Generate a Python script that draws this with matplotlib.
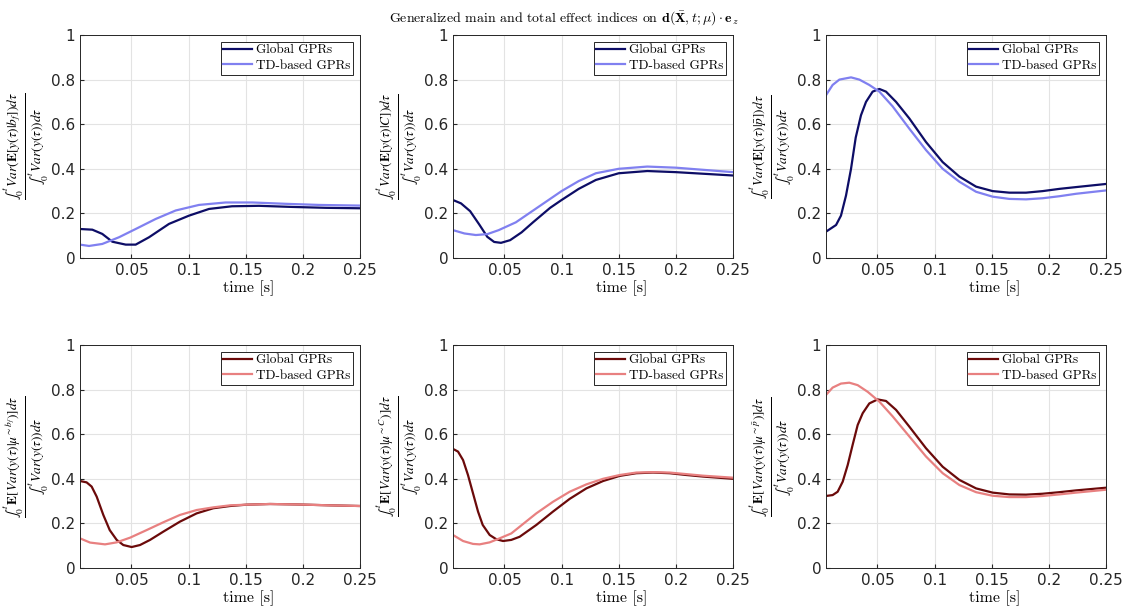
import matplotlib.pyplot as plt

plt.rcParams['mathtext.fontset'] = 'cm'

# Values (time in s)
t_g1 = [0.005, 0.0158, 0.0245, 0.0333, 0.045, 0.0537, 0.0654, 0.0829, 0.1004, 0.1179, 0.138, 0.1617, 0.1906, 0.2203, 0.25]
g1 = [0.13, 0.127, 0.108, 0.073, 0.06, 0.06, 0.093, 0.153, 0.19, 0.22, 0.232, 0.234, 0.229, 0.225, 0.223]
t_d1 = [0.005, 0.0129, 0.0245, 0.0391, 0.0537, 0.0712, 0.0887, 0.1091, 0.1325, 0.1558, 0.185, 0.2141, 0.25]
d1 = [0.06, 0.054, 0.063, 0.093, 0.13, 0.175, 0.213, 0.238, 0.249, 0.249, 0.243, 0.238, 0.235]

t_g2 = [0.005, 0.012, 0.02, 0.028, 0.035, 0.041, 0.047, 0.055, 0.065, 0.075, 0.09, 0.1, 0.115, 0.13, 0.15, 0.175, 0.2, 0.25]
g2 = [0.26, 0.245, 0.21, 0.15, 0.095, 0.072, 0.068, 0.08, 0.115, 0.16, 0.225, 0.26, 0.31, 0.35, 0.38, 0.39, 0.385, 0.37]
t_d2 = [0.005, 0.015, 0.025, 0.035, 0.045, 0.06, 0.08, 0.1, 0.115, 0.13, 0.15, 0.175, 0.2, 0.25]
d2 = [0.125, 0.11, 0.103, 0.107, 0.125, 0.16, 0.23, 0.3, 0.345, 0.38, 0.4, 0.41, 0.405, 0.385]

t_g3 = [0.005, 0.0138, 0.0181, 0.0225, 0.0269, 0.031, 0.0356, 0.04, 0.0458, 0.0517, 0.0575, 0.0663, 0.0779, 0.0925, 0.1071, 0.1217, 0.1363, 0.1508, 0.1654, 0.18, 0.1946, 0.2092, 0.2238, 0.25]
g3 = [0.118, 0.148, 0.19, 0.28, 0.40, 0.54, 0.64, 0.70, 0.746, 0.758, 0.746, 0.70, 0.626, 0.52, 0.43, 0.365, 0.32, 0.30, 0.293, 0.293, 0.30, 0.31, 0.318, 0.332]
t_d3 = [0.005, 0.0108, 0.0167, 0.0269, 0.0342, 0.0429, 0.0517, 0.0633, 0.0779, 0.0925, 0.1071, 0.1217, 0.1363, 0.1508, 0.1654, 0.18, 0.1946, 0.2092, 0.2238, 0.25]
d3 = [0.73, 0.776, 0.80, 0.81, 0.80, 0.776, 0.746, 0.68, 0.58, 0.484, 0.40, 0.342, 0.297, 0.275, 0.265, 0.263, 0.268, 0.277, 0.288, 0.303]

t_g4 = [0.005, 0.0108, 0.0152, 0.0196, 0.0254, 0.031, 0.0371, 0.0429, 0.0502, 0.0575, 0.0663, 0.0779, 0.0925, 0.1071, 0.1217, 0.1363, 0.1508, 0.1713, 0.1946, 0.2238, 0.25]
g4 = [0.39, 0.384, 0.365, 0.32, 0.238, 0.17, 0.126, 0.103, 0.094, 0.103, 0.126, 0.163, 0.208, 0.245, 0.268, 0.278, 0.284, 0.287, 0.285, 0.281, 0.278]
t_d4 = [0.005, 0.0138, 0.0269, 0.0371, 0.0488, 0.0633, 0.0779, 0.0925, 0.1071, 0.1217, 0.1363, 0.1508, 0.1713, 0.1946, 0.2238, 0.25]
d4 = [0.133, 0.114, 0.106, 0.115, 0.136, 0.17, 0.205, 0.238, 0.26, 0.272, 0.281, 0.284, 0.287, 0.285, 0.281, 0.278]

t_g5 = [0.005, 0.0094, 0.0138, 0.0181, 0.0225, 0.0269, 0.031, 0.0371, 0.0429, 0.0488, 0.056, 0.0633, 0.0779, 0.0925, 0.1071, 0.1217, 0.1363, 0.1508, 0.1654, 0.18, 0.1946, 0.2092, 0.2238, 0.25]
g5 = [0.534, 0.522, 0.484, 0.417, 0.335, 0.253, 0.193, 0.148, 0.129, 0.121, 0.126, 0.14, 0.193, 0.253, 0.31, 0.357, 0.39, 0.413, 0.425, 0.428, 0.425, 0.417, 0.41, 0.40]
t_d5 = [0.005, 0.0138, 0.0225, 0.0283, 0.0371, 0.0458, 0.056, 0.0633, 0.0779, 0.0925, 0.1071, 0.1217, 0.1363, 0.1508, 0.1654, 0.18, 0.1946, 0.2092, 0.2238, 0.25]
d5 = [0.148, 0.121, 0.108, 0.106, 0.115, 0.133, 0.155, 0.185, 0.245, 0.297, 0.342, 0.375, 0.40, 0.417, 0.428, 0.43, 0.428, 0.421, 0.414, 0.405]

t_g6 = [0.005, 0.0108, 0.0152, 0.0196, 0.024, 0.0283, 0.0327, 0.0371, 0.0429, 0.0502, 0.0575, 0.0663, 0.0779, 0.0925, 0.1071, 0.1217, 0.1363, 0.1508, 0.1654, 0.18, 0.1946, 0.2092, 0.2238, 0.25]
g6 = [0.323, 0.327, 0.342, 0.387, 0.462, 0.552, 0.641, 0.694, 0.738, 0.756, 0.749, 0.709, 0.634, 0.537, 0.454, 0.395, 0.357, 0.338, 0.33, 0.329, 0.333, 0.34, 0.348, 0.36]
t_d6 = [0.005, 0.0108, 0.0181, 0.0254, 0.0327, 0.0415, 0.0517, 0.0633, 0.0779, 0.0925, 0.1071, 0.1217, 0.1363, 0.1508, 0.1654, 0.18, 0.1946, 0.2092, 0.2238, 0.25]
d6 = [0.776, 0.809, 0.827, 0.831, 0.82, 0.79, 0.746, 0.68, 0.59, 0.50, 0.425, 0.372, 0.34, 0.324, 0.318, 0.318, 0.323, 0.33, 0.338, 0.351]

ylabels = [
    r'$\dfrac{\int_0^t\, Var(\mathbf{E}[y(\tau)|b_f])d\tau}{\int_0^t\, Var(y(\tau))d\tau}$',
    r'$\dfrac{\int_0^t\, Var(\mathbf{E}[y(\tau)|C])d\tau}{\int_0^t\, Var(y(\tau))d\tau}$',
    r'$\dfrac{\int_0^t\, Var(\mathbf{E}[y(\tau)|\bar{p}])d\tau}{\int_0^t\, Var(y(\tau))d\tau}$',
    r'$\dfrac{\int_0^t\, \mathbf{E}[Var(y(\tau)|\mu^{\sim b_f})]d\tau}{\int_0^t\, Var(y(\tau))d\tau}$',
    r'$\dfrac{\int_0^t\, \mathbf{E}[Var(y(\tau)|\mu^{\sim C})]d\tau}{\int_0^t\, Var(y(\tau))d\tau}$',
    r'$\dfrac{\int_0^t\, \mathbf{E}[Var(y(\tau)|\mu^{\sim \bar{p}})]d\tau}{\int_0^t\, Var(y(\tau))d\tau}$',
]

glob = [(t_g1, g1), (t_g2, g2), (t_g3, g3), (t_g4, g4), (t_g5, g5), (t_g6, g6)]
td = [(t_d1, d1), (t_d2, d2), (t_d3, d3), (t_d4, d4), (t_d5, d5), (t_d6, d6)]

fig = plt.figure(figsize=(11.28, 6.13), dpi=100)
W, H = 1128, 613
lefts = [80, 453, 826]
tops = [35, 345]
aw, ah = 280, 223

for i in range(6):
    r, c = divmod(i, 3)
    ax = fig.add_axes([lefts[c] / W, 1 - (tops[r] + ah) / H, aw / W, ah / H])
    if r == 0:
        cg, cd = '#0d0d66', '#8080f0'
    else:
        cg, cd = '#6b0a0a', '#e88080'
    ax.plot(*glob[i], color=cg, lw=1.6, label='Global GPRs')
    ax.plot(*td[i], color=cd, lw=1.6, label='TD-based GPRs')
    ax.set_xlim(0.005, 0.25)
    ax.set_ylim(0, 1)
    ax.set_xticks([0.05, 0.1, 0.15, 0.2, 0.25])
    ax.set_xticklabels(['0.05', '0.1', '0.15', '0.2', '0.25'])
    ax.set_yticks([0, 0.2, 0.4, 0.6, 0.8, 1])
    ax.set_yticklabels(['0', '0.2', '0.4', '0.6', '0.8', '1'])
    ax.tick_params(labelsize=11, direction='in', length=3, colors='#262626')
    ax.grid(True, color='#e3e3e3', lw=0.8)
    for s in ax.spines.values():
        s.set_color('#262626')
        s.set_linewidth(0.7)
    ax.set_xlabel('time [s]', family='cmr10', fontsize=11.5)
    ax.xaxis.set_label_coords(0.604, -0.1)
    ax.set_ylabel(ylabels[i], fontsize=9.6, va='center', math_fontfamily='stix')
    ax.yaxis.set_label_coords(-0.192, 0.5)
    leg = ax.legend(loc='upper right', prop={'family': 'cmr10', 'size': 9.5},
                    fancybox=False, edgecolor='#262626', framealpha=1,
                    borderpad=0.2, labelspacing=0.25, handlelength=2.2,
                    handletextpad=0.3, borderaxespad=0.5)
    leg.get_frame().set_linewidth(0.7)

fig.text(0.5, 0.985, r'Generalized main and total effect indices on $\mathbf{d}(\bar{\mathbf{X}},t;\mu)\cdot\mathbf{e}_z$',
         ha='center', va='top', family='cmr10', fontsize=10)

fig.savefig('out.png', dpi=100)
